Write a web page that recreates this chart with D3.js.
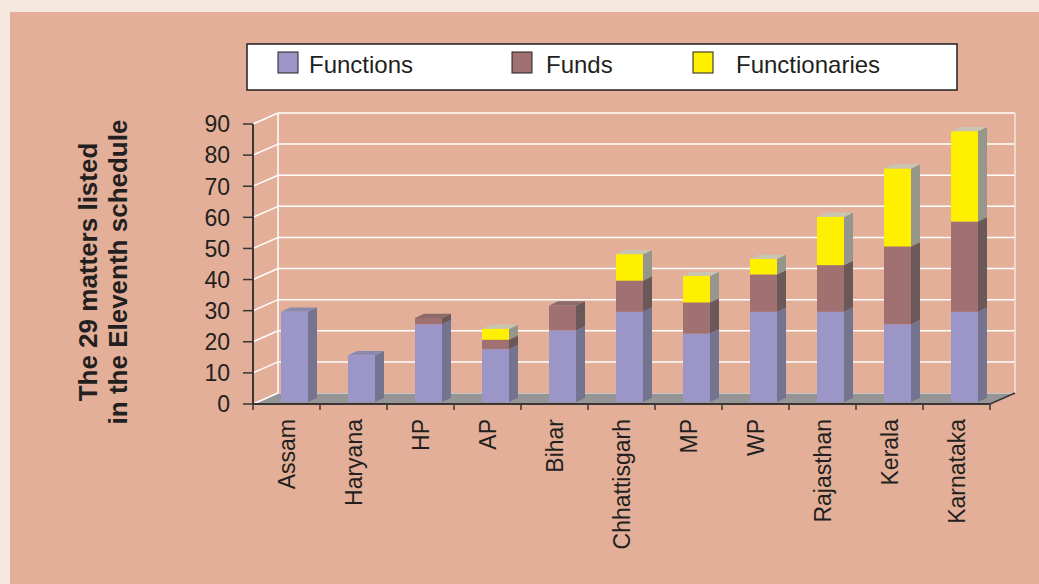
<!DOCTYPE html>
<html>

<head>
    <meta charset="utf-8">
    <title>Devolution chart</title>
    <script src="https://d3js.org/d3.v7.min.js"></script>
    <style>
        body { margin: 0; background: #F6E8DF; }
        svg { display: block; }
        text { font-family: "Liberation Sans", Arial, sans-serif; fill: #231F20; }
    </style>
</head>

<body>
    <svg width="1039" height="584"></svg>
    <script>
        // values
        const states = ["Assam", "Haryana", "HP", "AP", "Bihar", "Chhattisgarh", "MP", "WP", "Rajasthan", "Kerala", "Karnataka"]
        const functions = [29, 15, 25, 17, 23, 29, 22, 29, 29, 25, 29]
        const funds = [0, 0, 2, 3, 8, 10, 10, 12, 15, 25, 29]
        const functionaries = [0, 0, 0, 3.5, 0, 8.5, 8.5, 5, 15.5, 25, 29]
        const yTicks = [0, 10, 20, 30, 40, 50, 60, 70, 80, 90]
        const seriesNames = ["Functions", "Funds", "Functionaries"]

        // front / side / top shades for each series
        const colors = [
            { front: "#9C96C8", side: "#747390", top: "#8C89B0" },
            { front: "#A07170", side: "#6B5858", top: "#8A6B6A" },
            { front: "#FFF000", side: "#97968B", top: "#C9C5B1" }
        ]

        const svg = d3.select("svg")
        const width = +svg.attr("width")
        const height = +svg.attr("height")

        // panel
        svg.append("rect")
            .attr("x", 10).attr("y", 12)
            .attr("width", width - 10).attr("height", height - 12)
            .attr("fill", "#E3AF98")

        const depthX = 25, depthY = -11
        const x = d3.scaleBand().domain(states).range([253, 990])
        const y = d3.scaleLinear().domain([0, 90]).range([404, 124])

        // floor
        svg.append("polygon")
            .attr("points", [[253, y(0)], [990, y(0)], [990 + depthX, y(0) + depthY], [253 + depthX, y(0) + depthY]].join(" "))
            .attr("fill", "#959595")
        svg.append("line")
            .attr("x1", 253 + depthX).attr("x2", 990 + depthX)
            .attr("y1", y(0) + depthY + 0.5).attr("y2", y(0) + depthY + 0.5)
            .attr("stroke", "#C8C8C8").attr("stroke-width", 1)

        // walls and gridlines
        const grid = svg.append("g").attr("stroke", "#FFFFFF").attr("stroke-width", 1.5).attr("fill", "none")
        yTicks.filter(t => t > 0).forEach(t => {
            grid.append("line")
                .attr("x1", 253 + depthX).attr("x2", 990 + depthX)
                .attr("y1", y(t) + depthY).attr("y2", y(t) + depthY)
        })
        yTicks.forEach(t => {
            grid.append("line")
                .attr("x1", 253).attr("x2", 253 + depthX)
                .attr("y1", y(t)).attr("y2", y(t) + depthY)
        })
        grid.append("line")
            .attr("x1", 253 + depthX).attr("x2", 253 + depthX)
            .attr("y1", y(90) + depthY).attr("y2", y(0) + depthY)
        grid.append("line")
            .attr("x1", 990 + depthX).attr("x2", 990 + depthX)
            .attr("y1", y(90) + depthY).attr("y2", y(0) + depthY)
            .attr("stroke", "#F4E4DC")

        // stacked 3d bars
        const faceW = 27, barDx = 9, barDy = -4.3, shiftX = 8, shiftY = -2
        const stack = states.map((s, i) => {
            const vals = [functions[i], funds[i], functionaries[i]]
            let base = 0
            return vals.map((v, k) => {
                const seg = { state: s, k: k, y0: base, y1: base + v }
                base += v
                return seg
            }).filter(d => d.y1 > d.y0)
        })

        const bars = svg.append("g")
        stack.forEach(segs => {
            segs.forEach(d => {
                const left = x(d.state) + x.bandwidth() / 2 - faceW / 2 + shiftX
                const right = left + faceW
                const top = y(d.y1) + shiftY
                const bottom = y(d.y0) + shiftY
                const c = colors[d.k]
                bars.append("polygon")
                    .attr("points", [[right, bottom], [right + barDx, bottom + barDy], [right + barDx, top + barDy], [right, top]].join(" "))
                    .attr("fill", c.side)
                bars.append("polygon")
                    .attr("points", [[left, top], [right, top], [right + barDx, top + barDy], [left + barDx, top + barDy]].join(" "))
                    .attr("fill", c.top)
                bars.append("rect")
                    .attr("x", left).attr("y", top)
                    .attr("width", faceW).attr("height", bottom - top)
                    .attr("fill", c.front)
            })
        })

        // axes
        const axisColor = "#3A3536"
        const yAxis = svg.append("g")
        yAxis.append("line")
            .attr("x1", 253).attr("x2", 253).attr("y1", y(90)).attr("y2", y(0))
            .attr("stroke", axisColor).attr("stroke-width", 2)
        yTicks.forEach(t => {
            yAxis.append("line")
                .attr("x1", 243).attr("x2", 253).attr("y1", y(t)).attr("y2", y(t))
                .attr("stroke", axisColor).attr("stroke-width", 1.5)
            yAxis.append("text")
                .attr("x", 230).attr("y", y(t)).attr("dy", "0.36em")
                .attr("text-anchor", "end")
                .style("font-size", "23px")
                .text(t)
        })

        const xAxis = svg.append("g")
        xAxis.append("line")
            .attr("x1", 253).attr("x2", 990).attr("y1", y(0)).attr("y2", y(0))
            .attr("stroke", axisColor).attr("stroke-width", 2)
        xAxis.append("line")
            .attr("x1", 990).attr("x2", 990 + depthX).attr("y1", y(0)).attr("y2", y(0) + depthY)
            .attr("stroke", axisColor).attr("stroke-width", 1.5)
        states.concat([null]).forEach((s, i) => {
            const tx = s ? x(s) : 990
            xAxis.append("line")
                .attr("x1", tx).attr("x2", tx).attr("y1", y(0)).attr("y2", y(0) + 6)
                .attr("stroke", axisColor).attr("stroke-width", 1.5)
        })
        states.forEach(s => {
            const cx = x(s) + x.bandwidth() / 2
            xAxis.append("text")
                .attr("transform", `translate(${cx},419) rotate(-90)`)
                .attr("dy", "0.36em")
                .attr("text-anchor", "end")
                .style("font-size", "23px")
                .text(s)
        })

        // y title
        const title = svg.append("text")
            .attr("transform", "translate(103,272) rotate(-90)")
            .attr("text-anchor", "middle")
            .style("font-size", "26px")
            .style("font-weight", "bold")
        title.append("tspan").attr("x", 0).attr("dy", "-0.22em").text("The 29 matters listed")
        title.append("tspan").attr("x", 0).attr("dy", "1.15em").text("in the Eleventh schedule")

        // legend
        const legend = svg.append("g")
        legend.append("rect")
            .attr("x", 247).attr("y", 44).attr("width", 710).attr("height", 46)
            .attr("fill", "#FFFFFF").attr("stroke", "#231F20").attr("stroke-width", 1.5)
        const swX = [278, 512, 693]
        const txX = [309, 546, 736]
        seriesNames.forEach((n, k) => {
            legend.append("rect")
                .attr("x", swX[k]).attr("y", 52).attr("width", 20).attr("height", 21)
                .attr("fill", colors[k].front).attr("stroke", "#231F20").attr("stroke-width", 1)
            legend.append("text")
                .attr("x", txX[k]).attr("y", 73)
                .style("font-size", "24px")
                .text(n)
        })
    </script>
</body>

</html>
